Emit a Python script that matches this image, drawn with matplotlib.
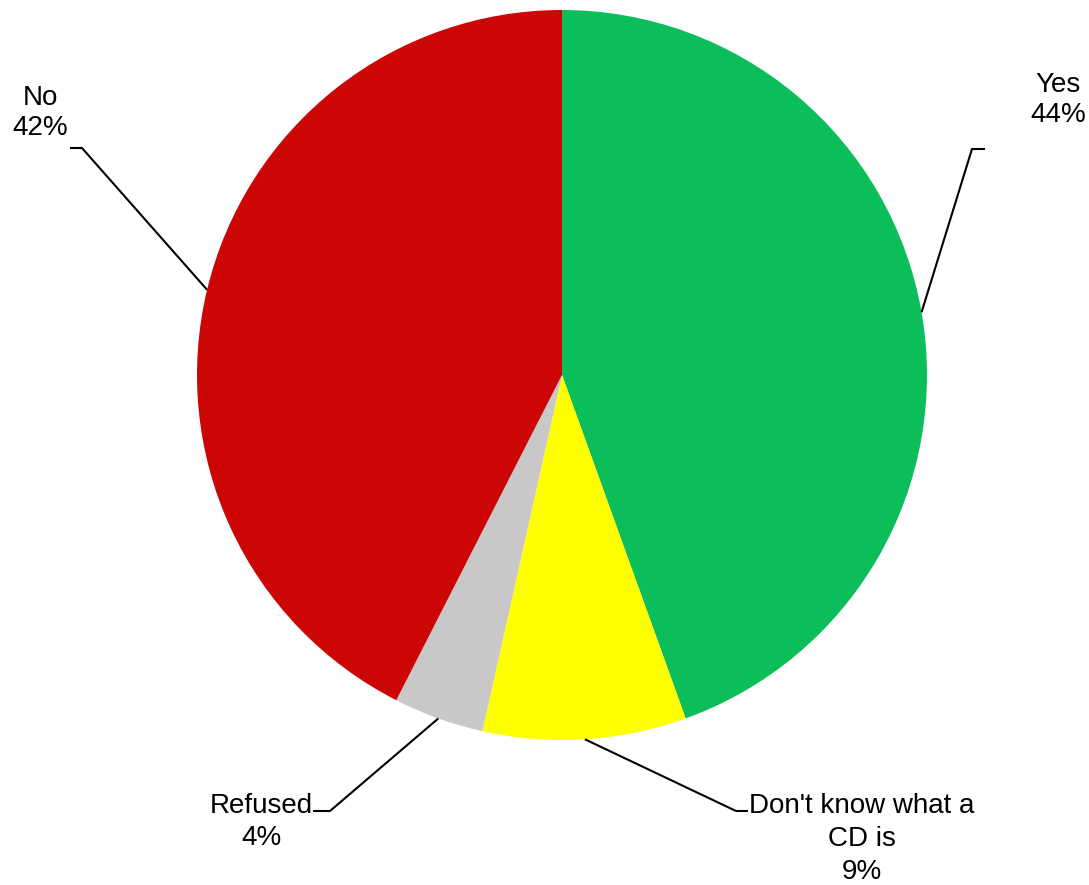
import numpy as np
import matplotlib.pyplot as plt

# data
labels = ["Yes", "Don't know what a\nCD is", "Refused", "No"]
values = [44.5, 9.0, 4.0, 42.5]
pct_text = ["44%", "9%", "4%", "42%"]
colors = ["#0BBE59", "#FFFF00", "#C8C8C8", "#CC0605"]

W, H = 1089, 885

def py(y):
  # pixel row (from top) to data y
  return H - y

fig = plt.figure(figsize=(W / 100, H / 100), dpi=100)
ax = fig.add_axes([0, 0, 1, 1])

cx, cy, r = 562, py(375), 365
wedges, _ = ax.pie(values, colors=colors, startangle=90, counterclock=False,
                   center=(cx, cy), radius=r,
                   wedgeprops=dict(linewidth=0))

ax.set_xlim(0, W)
ax.set_ylim(0, H)
ax.set_aspect("equal")
ax.axis("off")

# first line centre of each label, line step, and leader elbow
text_pos = [(1058, 82), (862, 803), (261, 803), (40, 95)]
steps = [30, 33, 32, 30]
elbows = [((985, 149), (972, 149)),
          ((748, 811), (736, 811)),
          ((313, 811), (330, 811)),
          ((70, 148), (82, 148))]

for w, lab, pc, tp, st, el in zip(wedges, labels, pct_text, text_pos, steps, elbows):
  mid = np.deg2rad((w.theta1 + w.theta2) / 2)
  ex = cx + r * np.cos(mid)
  ey = cy + r * np.sin(mid)
  xs = [el[0][0], el[1][0], ex]
  ys = [py(el[0][1]), py(el[1][1]), ey]
  ax.plot(xs, ys, color="black", lw=1.5, solid_capstyle="butt")
  lines = lab.split("\n") + [pc]
  for k, line in enumerate(lines):
    ax.text(tp[0], py(tp[1] + k * st), line, ha="center", va="center_baseline",
            fontsize=20, family="Liberation Sans")

fig.savefig("out.png", dpi=100, facecolor="white")
